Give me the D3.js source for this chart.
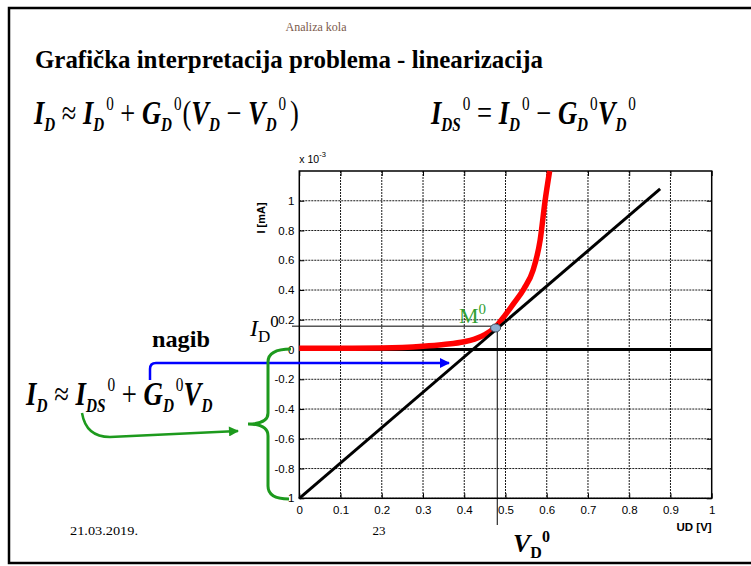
<!DOCTYPE html>
<html>
<head>
<meta charset="utf-8">
<script src="https://cdn.jsdelivr.net/npm/d3@7"></script>
<style>
  html, body { margin: 0; padding: 0; background: #fff; }
  svg { display: block; }
</style>
</head>
<body>
<svg id="slide" width="751" height="566"></svg>
<script>
// Diode characteristic (current in units of 1e-3 A vs diode voltage UD)
const diodeV = [0, 0.1, 0.2, 0.25, 0.3, 0.35, 0.4, 0.425, 0.45, 0.475, 0.5, 0.52, 0.545, 0.567, 0.584, 0.596, 0.607];
const diodeI = [0.008, 0.008, 0.01, 0.014, 0.022, 0.034, 0.052, 0.07, 0.1, 0.15, 0.235, 0.31, 0.41, 0.535, 0.735, 1.0, 1.2];

// Tangent (linearised model) through the operating point
const tangentV = [0, 0.875];
const tangentI = [-1, 1.08];

// Operating point M0 and its projection lines
const opPoint = [0.476, 0.145];
const vd0 = 0.48;
const id0 = 0.157;

// Axis ticks
const xTicks = [0, 0.1, 0.2, 0.3, 0.4, 0.5, 0.6, 0.7, 0.8, 0.9, 1];
const xTickLabels = ["0", "0.1", "0.2", "0.3", "0.4", "0.5", "0.6", "0.7", "0.8", "0.9", "1"];
const yTicks = [-1, -0.8, -0.6, -0.4, -0.2, 0, 0.2, 0.4, 0.6, 0.8, 1];
const yTickLabels = ["-1", "-0.8", "-0.6", "-0.4", "-0.2", "0", "0.2", "0.4", "0.6", "0.8", "1"];

const svg = d3.select("#slide");
const serif = "'Liberation Serif', 'Times New Roman', serif";
const sans = "'Liberation Sans', Arial, sans-serif";

// slide frame
svg.append("rect").attr("x", 9).attr("y", 8).attr("width", 760).attr("height", 555)
  .attr("fill", "none").attr("stroke", "#000").attr("stroke-width", 2.5);

// plot area
const L = 299.3, R = 711.7, T = 171, B = 498.3;
const x = d3.scaleLinear().domain([0, 1]).range([L, R]);
const y = d3.scaleLinear().domain([-1, 1.2]).range([B, T]);

const plot = svg.append("g");

// dotted grid
plot.append("g").selectAll("line").data(xTicks.slice(1, -1)).join("line")
  .attr("x1", d => x(d)).attr("x2", d => x(d)).attr("y1", T).attr("y2", B)
  .attr("stroke", "#1a1a1a").attr("stroke-width", 1).attr("stroke-dasharray", "2,1");
plot.append("g").selectAll("line").data(yTicks).join("line")
  .attr("x1", L).attr("x2", R).attr("y1", d => y(d)).attr("y2", d => y(d))
  .attr("stroke", "#1a1a1a").attr("stroke-width", 1).attr("stroke-dasharray", "2,1");

// axes
const xAxis = d3.axisBottom(x).tickValues(xTicks).tickFormat((d, i) => xTickLabels[i]).tickSize(-5).tickPadding(8);
const yAxis = d3.axisLeft(y).tickValues(yTicks).tickFormat((d, i) => yTickLabels[i]).tickSize(-5).tickPadding(5);
const gx = plot.append("g").attr("transform", `translate(0,${B})`).call(xAxis);
const gy = plot.append("g").attr("transform", `translate(${L},0)`).call(yAxis);
const gyr = plot.append("g").attr("transform", `translate(${R},0)`)
  .call(d3.axisRight(y).tickValues(yTicks).tickFormat("").tickSize(-5));
const gxt = plot.append("g").attr("transform", `translate(0,${T})`)
  .call(d3.axisTop(x).tickValues(xTicks).tickFormat("").tickSize(-5));
[gx, gy, gyr, gxt].forEach(g => {
  g.select(".domain").remove();
  g.selectAll("line").attr("stroke", "#000");
  g.selectAll("text").attr("font-family", sans).attr("font-size", 11.5).attr("fill", "#000");
});
plot.append("rect").attr("x", L).attr("y", T).attr("width", R - L).attr("height", B - T)
  .attr("fill", "none").attr("stroke", "#000").attr("stroke-width", 1.5);

// axis titles
svg.append("text").attr("x", L).attr("y", 163).attr("font-family", sans).attr("font-size", 10.5)
  .text("x 10").append("tspan").attr("dy", -6).attr("font-size", 7.5).text("-3");
svg.append("text").attr("transform", "translate(265,218) rotate(-90)").attr("text-anchor", "middle")
  .attr("font-family", sans).attr("font-size", 11).attr("font-weight", "bold").text("I [mA]");
svg.append("text").attr("x", R).attr("y", 531).attr("text-anchor", "end")
  .attr("font-family", sans).attr("font-size", 11.5).attr("font-weight", "bold").text("UD [V]");

// zero current line
plot.append("line").attr("x1", L).attr("x2", R).attr("y1", y(0)).attr("y2", y(0))
  .attr("stroke", "#000").attr("stroke-width", 3);

// diode curve
const line = d3.line().x(d => x(d[0])).y(d => y(d[1])).curve(d3.curveMonotoneX);
plot.append("path").datum(d3.zip(diodeV, diodeI)).attr("d", line)
  .attr("fill", "none").attr("stroke", "#ff0000").attr("stroke-width", 5.5).attr("stroke-linecap", "butt");

// tangent
plot.append("path").datum(d3.zip(tangentV, tangentI)).attr("d", d3.line().x(d => x(d[0])).y(d => y(d[1])))
  .attr("fill", "none").attr("stroke", "#000").attr("stroke-width", 3);

// projection lines of the operating point
svg.append("line").attr("x1", 292).attr("x2", x(vd0)).attr("y1", y(id0)).attr("y2", y(id0))
  .attr("stroke", "#000").attr("stroke-width", 1);
svg.append("line").attr("x1", x(vd0)).attr("x2", x(vd0)).attr("y1", y(id0) - 3).attr("y2", 525)
  .attr("stroke", "#000").attr("stroke-width", 1);

// operating point marker
svg.append("ellipse").attr("cx", x(opPoint[0])).attr("cy", y(opPoint[1])).attr("rx", 5).attr("ry", 4)
  .attr("fill", "#8eaed0").attr("stroke", "#405060").attr("stroke-width", 1);

// ---- text helpers ----
// Lays out a run of tspans (main symbols, subscripts, superscripts) and
// stretches the run to the given width with a fixed vertical scale.
function mathText(px, py, parts, opts) {
  opts = opts || {};
  const g = svg.append("g");
  const t = g.append("text").attr("x", 0).attr("y", 0).attr("font-family", serif)
    .attr("fill", opts.color || "#000");
  let prev = 0;
  parts.forEach(p => {
    const off = p.off || 0;
    const s = t.append("tspan").attr("dy", off - prev).attr("font-size", p.size)
      .attr("font-weight", p.b ? "bold" : "normal").attr("font-style", p.i ? "italic" : "normal")
      .text(p.t);
    if (p.dx) s.attr("dx", p.dx);
    prev = off;
  });
  let sx = 1;
  if (opts.width) {
    const bb = t.node().getBBox();
    sx = opts.width / bb.width;
    g.attr("transform", `translate(${px - bb.x * sx},${py}) scale(${sx},${opts.sy || 1})`);
  } else {
    g.attr("transform", `translate(${px},${py}) scale(1,${opts.sy || 1})`);
  }
  return t;
}
const B1 = 28, S1 = 16;
const V = (t, o) => Object.assign({ t, size: B1, b: true, i: true }, o || {});
const sub = (t, o) => Object.assign({ t, size: S1, b: true, i: true, off: 6 }, o || {});
const sup = (t, o) => Object.assign({ t, size: S1, off: -12, dx: 2 }, o || {});
const op = (t, o) => Object.assign({ t, size: B1 }, o || {});

// header
svg.append("text").attr("x", 316).attr("y", 31).attr("text-anchor", "middle").attr("font-family", serif)
  .attr("font-size", 12).attr("fill", "#7b5a4c").text("Analiza kola");
svg.append("text").attr("x", 35).attr("y", 68).attr("font-family", serif).attr("font-size", 26)
  .attr("font-weight", "bold").attr("textLength", 508).attr("lengthAdjust", "spacingAndGlyphs")
  .text("Grafička interpretacija problema - linearizacija");

// formulas
mathText(33, 124, [V("I"), sub("D"), op(" ≈ "), V("I"), sub("D"), sup("0"), op(" + "), V("G"), sub("D"), sup("0"),
  op("(", { dx: 1 }), V("V"), sub("D"), op(" − "), V("V"), sub("D"), sup("0"), op(")", { dx: 4 })],
  { width: 266, sy: 1.18 });
mathText(430, 124, [V("I"), sub("DS"), sup("0"), op(" = "), V("I"), sub("D"), sup("0"), op(" − "), V("G"), sub("D"), sup("0"),
  V("V"), sub("D"), sup("0")], { width: 206, sy: 1.18 });
mathText(25, 405, [V("I"), sub("D"), op(" ≈ "), V("I"), sub("DS"), sup("0"), op(" + "), V("G"), sub("D"), sup("0"),
  V("V"), sub("D")], { width: 188, sy: 1.18 });

svg.append("text").attr("x", 152).attr("y", 347).attr("font-family", serif).attr("font-size", 23)
  .attr("font-weight", "bold").attr("textLength", 58).attr("lengthAdjust", "spacingAndGlyphs").text("nagib");

mathText(250, 336, [{ t: "I", size: 24, i: true }, { t: "D", size: 17, off: 6 }, { t: "0", size: 17, off: -9 }]);
mathText(459, 323, [{ t: "M", size: 22 }, { t: "0", size: 15, off: -9 }], { color: "#31a031" });
mathText(513, 552, [{ t: "V", size: 26, b: true, i: true }, { t: "D", size: 16, b: true, off: 6 }, { t: "0", size: 16, b: true, off: -10 }]);

svg.append("text").attr("x", 70).attr("y", 535).attr("font-family", serif).attr("font-size", 13)
  .attr("textLength", 68).attr("lengthAdjust", "spacingAndGlyphs").text("21.03.2019.");
svg.append("text").attr("x", 379).attr("y", 535).attr("text-anchor", "middle").attr("font-family", serif).attr("font-size", 13).text("23");

// arrows
const defs = svg.append("defs");
function marker(id, color) {
  defs.append("marker").attr("id", id).attr("viewBox", "0 0 10 10").attr("refX", 9).attr("refY", 5)
    .attr("markerWidth", 4.5).attr("markerHeight", 4).attr("orient", "auto")
    .append("path").attr("d", "M0,0 L10,5 L0,10 z").attr("fill", color);
}
marker("blueHead", "#0000ff");
marker("greenHead", "#1d9a1d");

svg.append("path").attr("d", "M150,380 L150,369 Q150,363 156,363 L449,363")
  .attr("fill", "none").attr("stroke", "#0000ff").attr("stroke-width", 2.5).attr("marker-end", "url(#blueHead)");
svg.append("path").attr("d", "M82,413 Q86,437 110,437 L238,431")
  .attr("fill", "none").attr("stroke", "#1d9a1d").attr("stroke-width", 2.5).attr("marker-end", "url(#greenHead)");

// brace
svg.append("path")
  .attr("d", "M291,349 Q268,349 268,362 L268,413 Q268,424 248,424 Q268,424 268,436 L268,486 Q268,499 289,499")
  .attr("fill", "none").attr("stroke", "#1d9a1d").attr("stroke-width", 3);
</script>
</body>
</html>
